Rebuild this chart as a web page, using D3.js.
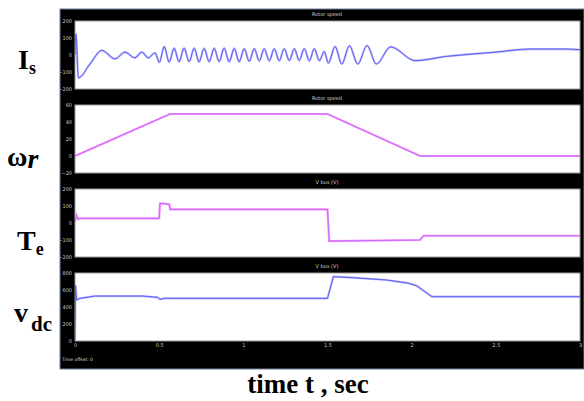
<!DOCTYPE html>
<html>
<head>
<meta charset="utf-8">
<script src="https://cdn.jsdelivr.net/npm/d3@7"></script>
<style>
  body { margin: 0; background: #fff; }
  svg text { font-family: "DejaVu Sans", sans-serif; }
  .big { font-family: "Liberation Serif", serif; font-weight: bold; fill: #000; }
</style>
</head>
<body>
<div id="canvas-container"></div>
<script>
// time ticks
var timeTicks = [0, 0.5, 1, 1.5, 2, 2.5, 3];
var timeLabels = ["0", "0.5", "1", "1.5", "2", "2.5", "3"];

// stator current Is : [t, value] turning points
var isT = [0, 0.006, 0.02, 0.089, 0.159, 0.238, 0.297, 0.356, 0.396, 0.436, 0.475, 0.501,
  0.53, 0.559, 0.589, 0.618, 0.648, 0.678, 0.708, 0.737, 0.767, 0.797, 0.827, 0.856,
  0.886, 0.916, 0.946, 0.975, 1.005, 1.035, 1.065, 1.094, 1.124, 1.154, 1.184, 1.213,
  1.243, 1.273, 1.303, 1.332, 1.362, 1.392, 1.422, 1.451, 1.481, 1.505,
  1.545, 1.585, 1.63, 1.68, 1.735, 1.79, 1.875, 2.02, 2.2, 2.5, 2.7, 2.92, 3.0];
var isV = [0, 125, -135, -53, 27, -23, 17, -17, 17, -17, 13, -43,
  50, -42, 40, -40, 41, -39, 40, -41, 39, -40, 40, -39,
  41, -40, 39, -40, 38, -38, 38, -35, 37, -34, 37, -34,
  37, -33, 37, -33, 38, -34, 37, -33, 20, -48,
  50, -53, 54, -53, 56, -53, 48, -33, -9, 17, 35, 35, 31];

// rotor speed
var wrT = [0, 0.564, 1.5, 2.05, 3];
var wrV = [0, 49.4, 49.4, 0, 0];

// electromagnetic torque
var teT = [0, 0.008, 0.018, 0.03, 0.5, 0.505, 0.56, 0.565, 1.5, 1.51, 2.05, 2.07, 3];
var teV = [8, 47, 22, 27, 27, 116, 110, 80, 80, -106, -100, -75, -75];

// dc link voltage
var vdcT = [0, 0.003, 0.01, 0.03, 0.12, 0.4, 0.49, 0.505, 0.53, 1.5, 1.535, 1.65, 1.85, 1.98, 2.03, 2.12, 3];
var vdcV = [12, 659, 482, 502, 529, 529, 514, 490, 502, 502, 757, 745, 718, 680, 650, 521, 521];

// axis ranges and tick labels for each scope
var isTicks = [200, 100, 0, -100, -200];
var wrTicks = [60, 40, 20, 0, -20];
var teTicks = [200, 100, 0, -100, -200];
var vdcTicks = [800, 600, 400, 200, 0];

var titles = ["Rotor speed", "Rotor speed", "V bus (V)", "V bus (V)"];

function zip(ts, vs) {
    var ret = [];
    for (var i = 0; i < ts.length; i++) ret.push([ts[i], vs[i]]);
    return ret;
}

var w = 584, h = 401;
var svg = d3.select("#canvas-container").append("svg")
    .attr("width", w)
    .attr("height", h);

// black scope background
svg.append("rect")
    .attr("x", 60).attr("y", 9)
    .attr("width", 524).attr("height", 360)
    .attr("fill", "#000")
    .attr("stroke", "#6d7f96")
    .attr("stroke-width", 1);

var x = d3.scaleLinear().domain([0, 3]).range([75, 580]);
var ph = 68;
var tops = [21, 105, 189, 273];

var panels = [
    { ticks: isTicks, data: zip(isT, isV), curve: d3.curveMonotoneX, kind: "blue" },
    { ticks: wrTicks, data: zip(wrT, wrV), curve: d3.curveLinear, kind: "pink" },
    { ticks: teTicks, data: zip(teT, teV), curve: d3.curveLinear, kind: "pink" },
    { ticks: vdcTicks, data: zip(vdcT, vdcV), curve: d3.curveLinear, kind: "blue" }
];

panels.forEach(function(p, i) {
    var top = tops[i];
    var y = d3.scaleLinear()
        .domain([d3.min(p.ticks), d3.max(p.ticks)])
        .range([top + ph, top]);

    svg.append("rect")
        .attr("x", x(0)).attr("y", top)
        .attr("width", x(3) - x(0)).attr("height", ph)
        .attr("fill", "#fff")
        .attr("stroke", "#9a9a9a")
        .attr("stroke-width", 1);

    svg.append("clipPath").attr("id", "clip" + i)
        .append("rect")
        .attr("x", x(0)).attr("y", top)
        .attr("width", x(3) - x(0)).attr("height", ph);

    var ax = svg.append("g")
        .attr("transform", "translate(" + (x(0) - 1) + ",0)")
        .call(d3.axisLeft(y).tickValues(p.ticks).tickSize(0).tickPadding(2));
    ax.select(".domain").remove();
    ax.selectAll("text").attr("fill", "#c8c8c8").attr("font-size", 5);

    svg.append("text")
        .attr("x", 327).attr("y", top - 5)
        .attr("text-anchor", "middle")
        .attr("font-size", 5)
        .attr("fill", "#d8d8d8")
        .text(titles[i]);

    var line = d3.line()
        .x(function(d) { return x(d[0]); })
        .y(function(d) { return y(d[1]); })
        .curve(p.curve);

    var g = svg.append("g").attr("clip-path", "url(#clip" + i + ")");
    if (p.kind == "blue") {
        g.append("path").datum(p.data)
            .attr("d", line)
            .attr("fill", "none")
            .attr("stroke", "#b8b8ff")
            .attr("stroke-width", 2.2);
        g.append("path").datum(p.data)
            .attr("d", line)
            .attr("fill", "none")
            .attr("stroke", "#5f5ff2")
            .attr("stroke-width", 1);
    } else {
        g.append("path").datum(p.data)
            .attr("d", line)
            .attr("fill", "none")
            .attr("stroke", "#ff8cff")
            .attr("stroke-width", 2.2);
        g.append("path").datum(p.data)
            .attr("d", line)
            .attr("fill", "none")
            .attr("stroke", "#a066f5")
            .attr("stroke-width", 0.9)
            .attr("opacity", 0.8);
    }
});

// time axis under the last scope
var xa = svg.append("g")
    .attr("transform", "translate(0," + (tops[3] + ph) + ")")
    .call(d3.axisBottom(x).tickValues(timeTicks).tickSize(0).tickPadding(2)
        .tickFormat(function(d, i) { return timeLabels[i]; }));
xa.select(".domain").remove();
xa.selectAll("text").attr("fill", "#c8c8c8").attr("font-size", 5);

svg.append("text")
    .attr("x", 62).attr("y", 361)
    .attr("font-size", 4.5)
    .attr("fill", "#d8d8d8")
    .text("Time offset:  0");

// signal names on the left
var lab;
lab = svg.append("text").attr("class", "big").attr("x", 18).attr("y", 69).attr("font-size", 28);
lab.append("tspan").text("I");
lab.append("tspan").attr("font-size", 18).attr("dy", 5).text("s");

lab = svg.append("text").attr("class", "big").attr("x", 7).attr("y", 166).attr("font-size", 28);
lab.append("tspan").text("ω");
lab.append("tspan").attr("font-style", "italic").attr("dy", 2).text("r");

lab = svg.append("text").attr("class", "big").attr("x", 17).attr("y", 250).attr("font-size", 28);
lab.append("tspan").text("T");
lab.append("tspan").attr("font-size", 18).attr("dy", 5).text("e");

lab = svg.append("text").attr("class", "big").attr("x", 14).attr("y", 322).attr("font-size", 28);
lab.append("tspan").text("v");
lab.append("tspan").attr("font-size", 21).attr("dx", 3).attr("dy", 9).text("dc");

svg.append("text").attr("class", "big")
    .attr("x", 308).attr("y", 393)
    .attr("text-anchor", "middle")
    .attr("font-size", 27)
    .text("time t , sec");
</script>
</body>
</html>
